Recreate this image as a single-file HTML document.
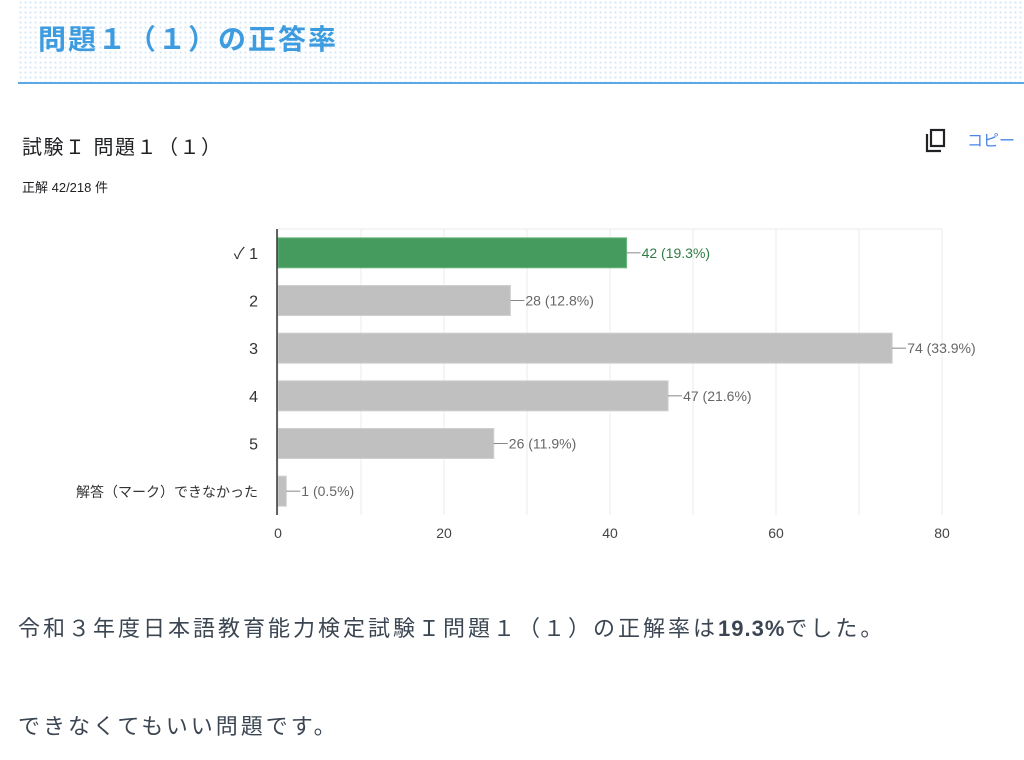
<!DOCTYPE html>
<html><head><meta charset="utf-8">
<style>
body{margin:0;width:1024px;height:760px;background:#fff;overflow:hidden;font-family:"Liberation Sans","Noto Sans CJK JP",sans-serif;position:relative}
.hdr{position:absolute;left:18px;top:0;width:1006px;height:82px;background-color:#fff;background-image:radial-gradient(#d6e8f7 1px,transparent 1.3px);background-size:5px 5px;border-bottom:2px solid #5aa9e6}
.hdr h2{margin:0;position:absolute;left:20px;top:18px;font-size:28px;font-weight:bold;color:#3d9be0;letter-spacing:2px}
.abs{position:absolute;white-space:nowrap}
</style></head><body>
<div class="hdr"><h2>問題１（１）の正答率</h2></div>
<div class="abs" style="left:22px;top:131px;font-size:20px;color:#202124;letter-spacing:1.5px">試験Ｉ 問題１（１）</div>
<div class="abs" style="left:22px;top:177px;font-size:13px;color:#202124">正解 42/218 件</div>
<div class="abs" style="left:924px;top:128px">
<svg width="100" height="30"><rect x="7" y="2" width="13" height="16" fill="none" stroke="#202124" stroke-width="2.2"/><path d="M3 6 V23 H17" fill="none" stroke="#202124" stroke-width="2.2"/><text x="43" y="18" font-size="16" fill="#4a86e8">コピー</text></svg></div>
<svg class="abs" style="left:0;top:0" width="1024" height="560">
<g id="grid"></g><g id="bars"></g><g id="labels"></g>
</svg>
<div class="abs" style="left:18px;top:611px;font-size:22px;color:#3b4652;letter-spacing:3px">令和３年度日本語教育能力検定試験Ｉ問題１（１）の正解率は<b style="letter-spacing:1px">19.3%</b>でした。</div>
<div class="abs" style="left:18px;top:709px;font-size:22px;color:#3b4652;letter-spacing:3px">できなくてもいい問題です。</div>
<script>
const categories=["1","2","3","4","5","解答（マーク）できなかった"];
const values=[42,28,74,47,26,1];
const valueLabels=["42 (19.3%)","28 (12.8%)","74 (33.9%)","47 (21.6%)","26 (11.9%)","1 (0.5%)"];
const ticks=[0,20,40,60,80];
const correctIndex=0;
const NS="http://www.w3.org/2000/svg";
const plotX0=278,plotX1=942,plotTop=229,plotBottom=515,xmax=80;
const xs=v=>plotX0+(plotX1-plotX0)*v/xmax;
const band=(plotBottom-plotTop)/categories.length;
const yc=i=>plotTop+band*(i+0.5);
function mk(t,a,p){const e=document.createElementNS(NS,t);for(const k in a)e.setAttribute(k,a[k]);p.appendChild(e);return e;}
const g=document.getElementById('grid'),b=document.getElementById('bars'),l=document.getElementById('labels');
for(let v=0;v<=xmax;v+=10){const ln=mk('line',{x1:xs(v),x2:xs(v),y1:plotTop,y2:plotBottom,stroke:'#ebebeb','stroke-width':1},g);

}
const tl=mk('line',{x1:plotX0,x2:plotX1,y1:plotTop,y2:plotTop,stroke:'#ebebeb'},g);


ticks.forEach(t=>{const e=mk('text',{x:xs(t),y:538,'text-anchor':'middle','font-size':14,fill:'#444'},l);e.textContent=t;

});
categories.forEach((c,i)=>{
const y=yc(i),h=30,ok=i===correctIndex,col=ok?'#459a5e':'#c0c0c0',lc=ok?'#2e7d46':'#666';
const r=mk('rect',{x:plotX0,y:y-h/2,width:xs(values[i])-plotX0,height:h,fill:col,stroke:ok?'#6bb982':'#d0d0d0','stroke-width':1},b);


const xe=xs(values[i]);
mk('line',{x1:xe,x2:xe+14,y1:y,y2:y,stroke:'#888'},b);
const vt=mk('text',{x:xe+15,y:y+5,'font-size':14,fill:lc},l);vt.textContent=valueLabels[i];


const ct=mk('text',{x:258,y:y+6,'text-anchor':'end','font-size':i<5?16:14,fill:'#333'},l);ct.textContent=(ok?'✓ ':'')+c;


});
const ax=mk('line',{x1:plotX0-1,x2:plotX0-1,y1:plotTop,y2:plotBottom,stroke:'#333','stroke-width':1.5},b);


</script>
</body></html>
